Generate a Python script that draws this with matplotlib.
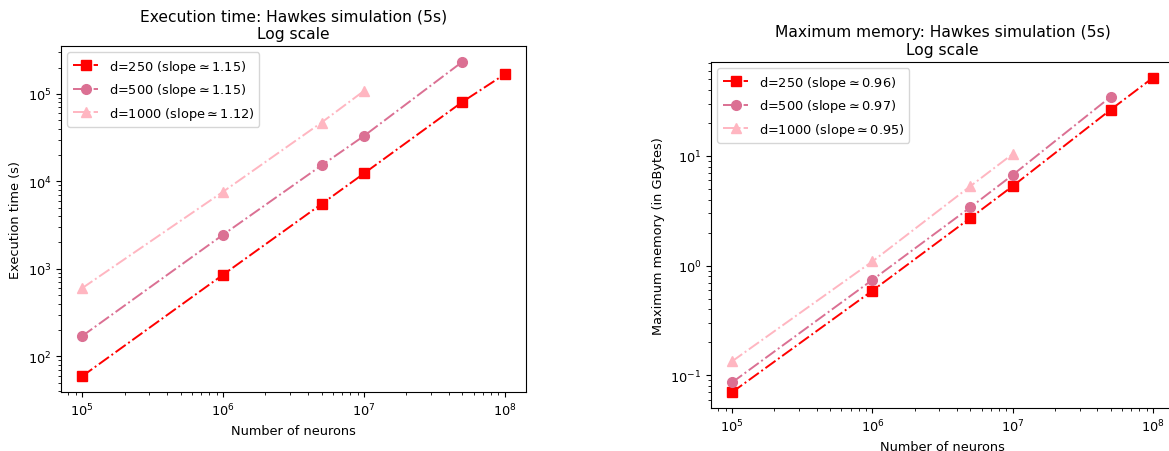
import matplotlib
matplotlib.use("Agg")
import matplotlib.pyplot as plt

# --- data ---
dims = [250, 500, 1000]
neurons = [1e5, 1e6, 5e6, 1e7, 5e7, 1e8]

time_250 = [59, 855, 5500, 12300, 81000, 168000]
time_500 = [170, 2450, 15200, 33000, 233000]
time_1000 = [600, 7600, 47000, 108000]
time_slopes = [1.15, 1.15, 1.12]

mem_250 = [0.070, 0.59, 2.72, 5.3, 26.4, 51.6]
mem_500 = [0.086, 0.74, 3.4, 6.7, 34.6]
mem_1000 = [0.134, 1.09, 5.3, 10.4]
mem_slopes = [0.96, 0.97, 0.95]

COLORS = ['#ff0000', 'palevioletred', 'lightpink']
MARKERS = ['s', 'o', '^']

# reference looks like a slightly downscaled default figure
plt.rcParams['font.size'] = 9.3
plt.rcParams['axes.titlesize'] = 11.2

fig = plt.figure(figsize=(11.69, 4.52), dpi=100)
ax1 = fig.add_axes([61 / 1169, 59 / 452, 465 / 1169, 346 / 452])
ax2 = fig.add_axes([711 / 1169, 43 / 452, 463 / 1169, 346 / 452])


def draw(ax, series, slopes, title, ylabel):
    for d, vals, s, c, m in zip(dims, series, slopes, COLORS, MARKERS):
        ax.plot(neurons[:len(vals)], vals, linestyle='-.', marker=m, color=c,
                markersize=7, linewidth=1.4, label=f'd={d} (slope$\\simeq${s:.2f})')
    ax.set_xscale('log')
    ax.set_yscale('log')
    ax.set_title(title)
    ax.set_xlabel('Number of neurons')
    ax.set_ylabel(ylabel)
    ax.legend(loc='upper left')


draw(ax1, [time_250, time_500, time_1000], time_slopes,
     'Execution time: Hawkes simulation (5s)\nLog scale', 'Execution time (s)')
draw(ax2, [mem_250, mem_500, mem_1000], mem_slopes,
     'Maximum memory: Hawkes simulation (5s)\nLog scale', 'Maximum memory (in GBytes)')

fig.savefig('out.png', dpi=100)
